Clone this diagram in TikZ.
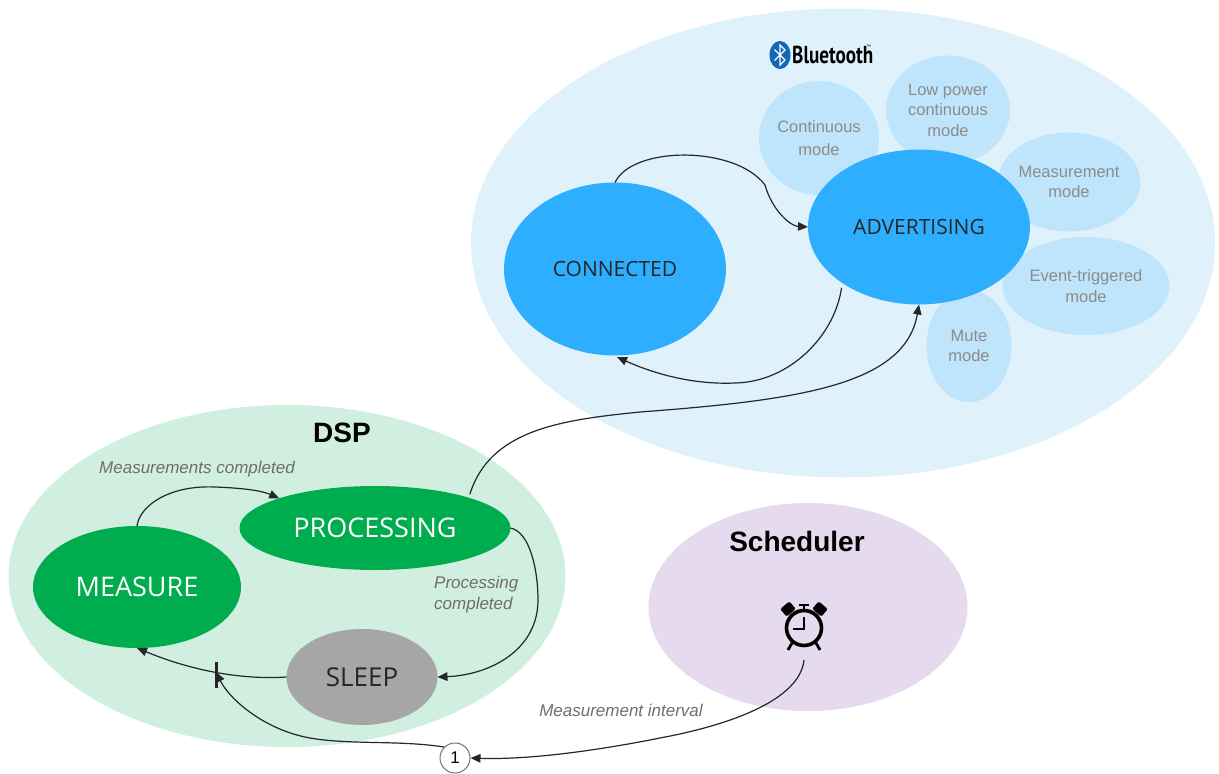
\documentclass[tikz,border=0pt]{standalone}
\usepackage{fontspec}
\setmainfont{Liberation Sans}
\newfontfamily\statefont{Open Sans}
\newfontfamily\logofont{PT Sans}
\usetikzlibrary{shapes.geometric,arrows.meta}
\definecolor{btbg}{HTML}{DFF1FB}
\definecolor{btmode}{HTML}{BEE5FB}
\definecolor{btstate}{HTML}{2EAEFF}
\definecolor{dspbg}{HTML}{D0EFE0}
\definecolor{dspstate}{HTML}{00AD4E}
\definecolor{schedbg}{HTML}{E5DAEE}
\definecolor{sleepgrey}{HTML}{A6A6A6}
\definecolor{modetext}{HTML}{8C8C8C}
\definecolor{labeltext}{HTML}{6E6E6E}
\definecolor{btlogo}{HTML}{1268B3}
\tikzset{
  blob/.style={ellipse,minimum width=#1,inner sep=0pt,outer sep=0pt},
  modeblob/.style={fill=btmode,text=modetext,align=center,font=\fontsize{16.5}{20.5}\selectfont},
  btblob/.style={fill=btstate,text=black!85,font=\statefont\fontsize{21}{24}\selectfont},
  dspblob/.style={fill=dspstate,text=white,font=\statefont\fontsize{27}{30}\selectfont},
  conn/.style={draw=black!85,line width=1.2pt,-{Triangle[length=10pt,width=8.5pt]}},
  italiclabel/.style={text=labeltext,font=\itshape\fontsize{17}{21}\selectfont,inner sep=0pt},
  titlelabel/.style={font=\bfseries\fontsize{28}{32}\selectfont,inner sep=0pt},
  clockline/.style={draw=black,line width=3pt}
}
\begin{document}
\begin{tikzpicture}[x=1pt,y=-1pt]
\useasboundingbox (0,0) rectangle (1219,774);
% backgrounds
\node[blob=744pt,minimum height=469pt,fill=btbg] (btarea) at (843,243) {};
\node[blob=557pt,minimum height=342pt,fill=dspbg] (dsparea) at (287,576) {};
\node[blob=319pt,minimum height=208pt,fill=schedbg] (schedarea) at (808,607) {};
% modes
\node[blob=120pt,minimum height=114pt,modeblob] (mcont) at (819,138) {\raisebox{1pt}{Continuous}\\\raisebox{-1pt}{mode}};
\node[blob=124pt,minimum height=109pt,modeblob] (mlow) at (948,110) {\raisebox{-2pt}{Low power}\\\raisebox{-2pt}{continuous}\\\raisebox{-2pt}{mode}};
\node[blob=140pt,minimum height=99pt,modeblob] (mmeas) at (1069,182) {\raisebox{-1pt}{Measurement}\\\raisebox{-1pt}{mode}};
\node[blob=167pt,minimum height=98pt,modeblob] (mevent) at (1086,286) {\raisebox{-1pt}{Event-triggered}\\\raisebox{-1pt}{mode}};
\node[blob=85pt,minimum height=112pt,modeblob] (mmute) at (969,346) {Mute\\mode};
% bluetooth states
\node[blob=222pt,minimum height=173pt,btblob] (connected) at (615,269) {\raisebox{-1pt}{CONNECTED}};
\node[blob=222pt,minimum height=155pt,btblob] (advertising) at (919,227) {\raisebox{-1pt}{ADVERTISING}};
% dsp states
\node[blob=208pt,minimum height=122pt,dspblob] (measure) at (137,587) {\raisebox{-1pt}{MEASURE}};
\node[blob=271pt,minimum height=84pt,dspblob] (processing) at (375,528) {PROCESSING};
\node[blob=151pt,minimum height=96pt,fill=sleepgrey,text=black!85,font=\statefont\fontsize{26}{30}\selectfont] (sleep) at (362,677) {\raisebox{-1pt}{SLEEP}};
% titles
\node[titlelabel] (dsptitle) at (342,433) {DSP};
\node[titlelabel] (schedtitle) at (797,541) {Scheduler};
% bluetooth logo
\node[fill=btlogo,ellipse,minimum width=21pt,minimum height=28pt,inner sep=0pt] (btbadge) at (780,55) {};
\draw[white,line width=1.3pt,line join=miter] (774.5,49.5) -- (785,60) -- (780,65) -- (780,45) -- (785,50) -- (774.5,60.5);
\node[inner sep=0pt,anchor=west] (bttext) at (792,55) {\scalebox{0.78}[1]{\logofont\bfseries\fontsize{24.5}{26}\selectfont Bluetooth}};
\node[inner sep=0pt,anchor=west] (bttm) at (866,47) {\fontsize{5}{5}\selectfont ™};
% alarm clock
\node[circle,draw=black,line width=3.6pt,minimum size=35pt,inner sep=0pt] (clock) at (804,628) {};
\draw[clockline,line width=2.4pt] (804,617) -- (804,629) -- (793,629);
\draw[clockline,line width=2.6pt] (799,605) -- (809,605);
\draw[clockline,line width=2.6pt] (804,605) -- (804,611);
\fill[black,rounded corners=1.5pt,rotate around={40:(788,609)}] (782,604) rectangle (794,614);
\fill[black,rounded corners=1.5pt,rotate around={-40:(820,609)}] (814,604) rectangle (826,614);
\draw[clockline,line width=2.8pt] (792,643) -- (788,650);
\draw[clockline,line width=2.8pt] (816,643) -- (820,650);
% tick and counter
\node[fill=black!85,minimum width=3pt,minimum height=26pt,inner sep=0pt] (tick) at (216,675) {};
\coordinate (tickhit) at (216,672);
\node[circle,draw=black!55,fill=white,line width=1pt,minimum size=30pt,inner sep=0pt,font=\fontsize{17}{20}\selectfont] (counter) at (455,758) {1};
% connectors
\draw[conn] (connected.north) .. controls (632,146) and (735,145) .. (765,185) .. controls (772,210) and (790,226) .. (advertising.west);
\draw[conn] (advertising.south west) ++(1,6) .. controls (835,335) and (790,382) .. (735,383) .. controls (690,385) and (650,372) .. (617,357);
\draw[conn] (processing.north east) ++(-1,-4) .. controls (490,430) and (560,420) .. (640,412) .. controls (800,400) and (905,385) .. (advertising.south);
\draw[conn] (measure.north) .. controls (140,505) and (170,485) .. (215,487) .. controls (240,488) and (260,490) .. (processing.north west);
\draw[conn] (processing.east) .. controls (530,532) and (538,570) .. (538,600) .. controls (538,650) and (490,675) .. (sleep.east);
\draw[conn] (sleep.west) .. controls (240,680) and (190,670) .. (measure.south);
\draw[conn] (counter.north west) .. controls (400,740) and (350,745) .. (310,738) .. controls (265,730) and (230,700) .. (tickhit);
\draw[conn] (804,660) .. controls (800,700) and (730,725) .. (660,738) .. controls (600,750) and (530,760) .. (counter.east);
% labels
\node[italiclabel] (l1) at (197,469) {Measurements completed};
\node[italiclabel,anchor=west,align=left] (l2) at (434,595) {Processing\\completed};
\node[italiclabel] (l3) at (621,710) {Measurement interval};
\end{tikzpicture}
\end{document}
